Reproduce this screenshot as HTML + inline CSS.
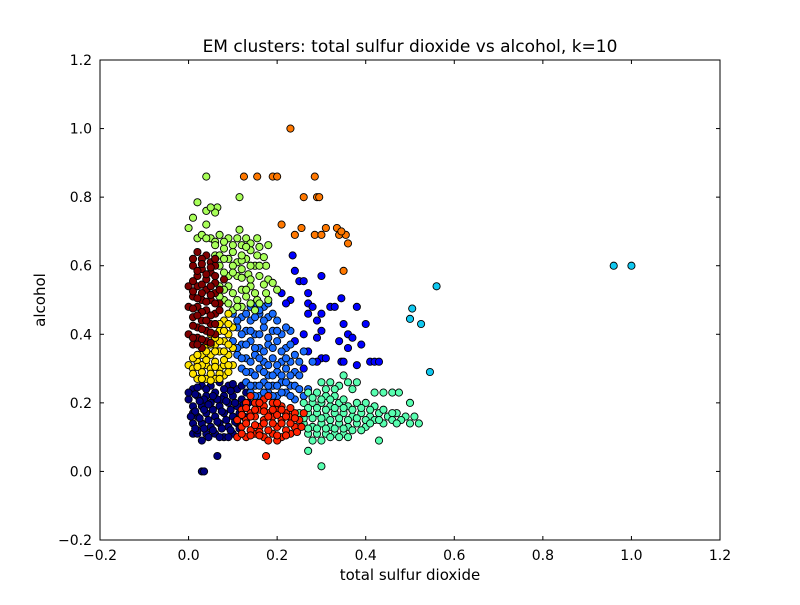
<!DOCTYPE html>
<html><head><meta charset="utf-8"><style>
body{margin:0;background:#fff}
svg text{font-family:"DejaVu Sans","Liberation Sans",sans-serif;fill:#000}
</style></head><body>
<svg id="chart" width="800" height="600" xmlns="http://www.w3.org/2000/svg">
<rect width="800" height="600" fill="#fff"/>
<text x="410" y="52" font-size="17" text-anchor="middle">EM clusters: total sulfur dioxide vs alcohol, k=10</text>
<text x="410" y="580" font-size="15" text-anchor="middle">total sulfur dioxide</text>
<text x="45" y="300" font-size="15" text-anchor="middle" transform="rotate(-90 45 300)">alcohol</text>
<g id="ticks"></g>
<g id="points"></g>
<rect x="100" y="60" width="620" height="480" fill="none" stroke="#000" stroke-width="1"/>
</svg>
<script>
const xTicks=[-0.2,0.0,0.2,0.4,0.6,0.8,1.0,1.2];
const yTicks=[-0.2,0.0,0.2,0.4,0.6,0.8,1.0,1.2];
const clusterColors=["#000080","#0000ff","#1a6cff","#10c8f0","#58ffb0","#a8ff58","#ffe400","#ff7800","#ff2200","#800000"];
const c0=[[0.01,0.11],[0.02,0.11],[0.04,0.11],[0.06,0.11],[0.08,0.10],[0.10,0.11],[0.03,0.09],[0.07,0.10],[0.01,0.14],[0.03,0.14],[0.05,0.13],[0.07,0.14],[0.09,0.13],[0.11,0.14],[0.02,0.16],[0.04,0.17],[0.06,0.16],[0.08,0.17],[0.10,0.16],[0.01,0.19],[0.03,0.19],[0.05,0.20],[0.07,0.19],[0.09,0.20],[0.11,0.19],[0.02,0.22],[0.04,0.22],[0.06,0.23],[0.08,0.22],[0.10,0.22],[0.12,0.21],[0.01,0.24],[0.03,0.25],[0.05,0.25],[0.07,0.26],[0.09,0.25],[0.11,0.24],[0.13,0.23],[0.00,0.21],[0.02,0.12],[0.045,0.15],[0.085,0.15],[0.055,0.18],[0.035,0.21],[0.075,0.21],[0.03,0.00],[0.035,0.00],[0.065,0.045],[0.0,0.23],[0.01,0.17]];
const c0b=[[0.015,0.125],[0.035,0.125],[0.055,0.12],[0.075,0.125],[0.095,0.12],[0.115,0.125],[0.025,0.155],[0.065,0.145],[0.105,0.145],[0.015,0.175],[0.035,0.18],[0.075,0.175],[0.095,0.18],[0.115,0.17],[0.025,0.205],[0.045,0.195],[0.065,0.21],[0.085,0.205],[0.105,0.2],[0.125,0.195],[0.015,0.225],[0.055,0.22],[0.095,0.235],[0.02,0.245],[0.04,0.24],[0.08,0.24],[0.1,0.255],[0.12,0.25],[0.005,0.16],[0.125,0.16],[0.135,0.2],[0.045,0.1],[0.09,0.1],[0.12,0.11]];
const c1=[[0.235,0.63],[0.24,0.585],[0.25,0.555],[0.26,0.555],[0.21,0.52],[0.23,0.5],[0.3,0.57],[0.27,0.52],[0.22,0.49],[0.27,0.49],[0.28,0.48],[0.32,0.48],[0.33,0.48],[0.345,0.505],[0.38,0.48],[0.27,0.46],[0.3,0.46],[0.29,0.44],[0.35,0.43],[0.4,0.43],[0.3,0.41],[0.26,0.4],[0.36,0.4],[0.24,0.38],[0.29,0.39],[0.34,0.38],[0.37,0.39],[0.39,0.37],[0.27,0.35],[0.36,0.36],[0.3,0.33],[0.31,0.33],[0.345,0.32],[0.35,0.32],[0.41,0.32],[0.42,0.32],[0.43,0.32],[0.38,0.31],[0.26,0.3],[0.29,0.32]];
const c2=[[0.1,0.46],[0.12,0.45],[0.14,0.44],[0.16,0.46],[0.18,0.45],[0.2,0.44],[0.11,0.42],[0.13,0.41],[0.15,0.40],[0.17,0.42],[0.19,0.41],[0.21,0.40],[0.23,0.41],[0.1,0.38],[0.12,0.37],[0.14,0.38],[0.16,0.36],[0.18,0.37],[0.2,0.38],[0.22,0.36],[0.11,0.34],[0.13,0.33],[0.15,0.34],[0.17,0.32],[0.19,0.33],[0.21,0.32],[0.23,0.32],[0.25,0.32],[0.12,0.3],[0.14,0.29],[0.16,0.3],[0.18,0.28],[0.2,0.29],[0.22,0.3],[0.24,0.29],[0.13,0.26],[0.15,0.25],[0.17,0.26],[0.19,0.25],[0.21,0.26],[0.23,0.25],[0.14,0.23],[0.16,0.22],[0.18,0.23],[0.2,0.22],[0.22,0.23],[0.24,0.21],[0.26,0.22],[0.15,0.49],[0.17,0.48],[0.26,0.35],[0.28,0.32]];
const c2b=[[0.11,0.44],[0.13,0.46],[0.15,0.45],[0.17,0.44],[0.19,0.46],[0.12,0.4],[0.14,0.41],[0.16,0.4],[0.18,0.39],[0.2,0.41],[0.22,0.42],[0.11,0.36],[0.13,0.37],[0.15,0.36],[0.17,0.35],[0.19,0.36],[0.21,0.35],[0.23,0.37],[0.12,0.33],[0.14,0.32],[0.16,0.33],[0.18,0.31],[0.2,0.31],[0.22,0.33],[0.24,0.34],[0.13,0.29],[0.15,0.28],[0.17,0.29],[0.19,0.28],[0.21,0.28],[0.23,0.28],[0.25,0.28],[0.14,0.25],[0.16,0.25],[0.18,0.25],[0.2,0.25],[0.22,0.26],[0.24,0.25],[0.15,0.22],[0.17,0.23],[0.19,0.22],[0.21,0.23],[0.23,0.22],[0.25,0.24],[0.27,0.24],[0.16,0.47],[0.18,0.49],[0.14,0.48]];
const c3=[[0.96,0.6],[1.0,0.6],[0.56,0.54],[0.505,0.475],[0.5,0.445],[0.525,0.43],[0.545,0.29]];
const c4=[[0.3,0.26],[0.32,0.26],[0.34,0.25],[0.36,0.26],[0.38,0.26],[0.35,0.28],[0.42,0.23],[0.44,0.23],[0.46,0.23],[0.475,0.23],[0.27,0.23],[0.29,0.23],[0.31,0.22],[0.33,0.22],[0.26,0.2],[0.28,0.2],[0.3,0.2],[0.32,0.19],[0.34,0.2],[0.36,0.19],[0.38,0.2],[0.4,0.2],[0.42,0.19],[0.25,0.17],[0.27,0.17],[0.29,0.17],[0.31,0.16],[0.33,0.17],[0.35,0.17],[0.37,0.16],[0.39,0.17],[0.41,0.16],[0.43,0.17],[0.45,0.16],[0.47,0.17],[0.49,0.16],[0.51,0.16],[0.26,0.14],[0.28,0.13],[0.3,0.14],[0.32,0.13],[0.34,0.14],[0.36,0.13],[0.38,0.14],[0.4,0.13],[0.44,0.14],[0.48,0.15],[0.5,0.14],[0.52,0.14],[0.27,0.11],[0.29,0.11],[0.31,0.11],[0.33,0.11],[0.35,0.11],[0.37,0.12],[0.28,0.09],[0.3,0.09],[0.3,0.015],[0.27,0.06],[0.43,0.09],[0.5,0.2],[0.39,0.12],[0.46,0.17]];
const c4b=[[0.31,0.24],[0.33,0.24],[0.37,0.24],[0.28,0.215],[0.3,0.21],[0.32,0.21],[0.35,0.21],[0.27,0.185],[0.29,0.185],[0.31,0.18],[0.33,0.185],[0.35,0.185],[0.37,0.18],[0.39,0.185],[0.41,0.18],[0.44,0.18],[0.26,0.155],[0.28,0.155],[0.3,0.155],[0.32,0.15],[0.34,0.155],[0.36,0.15],[0.38,0.155],[0.4,0.15],[0.42,0.15],[0.46,0.15],[0.27,0.125],[0.29,0.125],[0.31,0.125],[0.33,0.125],[0.35,0.125],[0.41,0.14],[0.43,0.15],[0.47,0.14],[0.32,0.1],[0.34,0.1],[0.36,0.1]];
const c5=[[0.04,0.86],[0.115,0.80],[0.02,0.785],[0.04,0.76],[0.065,0.77],[0.06,0.755],[0.05,0.77],[0.0,0.71],[0.01,0.74],[0.04,0.72],[0.115,0.705],[0.02,0.68],[0.03,0.69],[0.05,0.68],[0.07,0.69],[0.09,0.68],[0.11,0.68],[0.13,0.68],[0.14,0.665],[0.155,0.68],[0.18,0.66],[0.08,0.65],[0.1,0.64],[0.12,0.66],[0.14,0.645],[0.06,0.63],[0.09,0.62],[0.11,0.61],[0.13,0.62],[0.155,0.63],[0.17,0.625],[0.175,0.6],[0.07,0.6],[0.12,0.59],[0.15,0.60],[0.09,0.57],[0.11,0.57],[0.135,0.575],[0.16,0.57],[0.18,0.56],[0.07,0.54],[0.09,0.54],[0.12,0.53],[0.14,0.54],[0.19,0.55],[0.08,0.5],[0.11,0.5],[0.13,0.51],[0.155,0.50],[0.175,0.52],[0.1,0.47],[0.12,0.48],[0.07,0.51],[0.2,0.53],[0.15,0.47]];
const c5b=[[0.04,0.68],[0.06,0.67],[0.08,0.67],[0.1,0.66],[0.13,0.655],[0.16,0.655],[0.07,0.63],[0.08,0.62],[0.1,0.6],[0.12,0.615],[0.14,0.6],[0.16,0.6],[0.08,0.58],[0.1,0.58],[0.12,0.565],[0.14,0.56],[0.17,0.545],[0.08,0.53],[0.1,0.52],[0.13,0.53],[0.15,0.52],[0.09,0.49],[0.11,0.48],[0.14,0.49],[0.16,0.49],[0.18,0.5],[0.12,0.63],[0.06,0.66]];
const c6=[[0.0,0.31],[0.01,0.3],[0.02,0.32],[0.03,0.29],[0.04,0.31],[0.05,0.3],[0.06,0.32],[0.07,0.3],[0.08,0.31],[0.02,0.27],[0.04,0.27],[0.06,0.27],[0.08,0.28],[0.03,0.34],[0.05,0.34],[0.07,0.35],[0.09,0.34],[0.04,0.37],[0.06,0.37],[0.08,0.38],[0.05,0.4],[0.07,0.41],[0.09,0.4],[0.06,0.43],[0.08,0.44],[0.1,0.42],[0.09,0.46],[0.1,0.36],[0.01,0.33],[0.1,0.31]];
const c6b=[[0.01,0.285],[0.03,0.31],[0.05,0.285],[0.07,0.285],[0.09,0.29],[0.02,0.305],[0.04,0.325],[0.06,0.305],[0.08,0.325],[0.09,0.31],[0.02,0.34],[0.04,0.35],[0.06,0.35],[0.08,0.35],[0.05,0.37],[0.07,0.38],[0.09,0.37],[0.06,0.39],[0.08,0.41],[0.07,0.43],[0.09,0.43],[0.03,0.27],[0.05,0.265],[0.07,0.27]];
const c7=[[0.23,1.0],[0.125,0.86],[0.155,0.86],[0.19,0.86],[0.2,0.86],[0.285,0.86],[0.29,0.80],[0.295,0.80],[0.26,0.80],[0.21,0.72],[0.24,0.69],[0.255,0.71],[0.285,0.69],[0.3,0.69],[0.31,0.71],[0.335,0.71],[0.34,0.69],[0.355,0.69],[0.36,0.665],[0.35,0.585],[0.345,0.7]];
const c8=[[0.11,0.10],[0.13,0.10],[0.15,0.11],[0.17,0.10],[0.19,0.11],[0.21,0.10],[0.23,0.11],[0.12,0.13],[0.14,0.12],[0.16,0.13],[0.18,0.12],[0.20,0.13],[0.22,0.12],[0.24,0.13],[0.11,0.15],[0.13,0.15],[0.15,0.16],[0.17,0.15],[0.19,0.16],[0.21,0.15],[0.23,0.16],[0.25,0.15],[0.12,0.18],[0.14,0.17],[0.16,0.18],[0.18,0.17],[0.20,0.18],[0.22,0.17],[0.24,0.17],[0.13,0.20],[0.15,0.20],[0.17,0.19],[0.19,0.20],[0.21,0.19],[0.14,0.22],[0.17,0.21],[0.175,0.045],[0.18,0.09],[0.26,0.17],[0.20,0.09]];
const c8b=[[0.12,0.11],[0.14,0.105],[0.16,0.115],[0.2,0.105],[0.22,0.105],[0.245,0.115],[0.13,0.14],[0.15,0.135],[0.17,0.14],[0.19,0.14],[0.21,0.14],[0.23,0.14],[0.12,0.165],[0.14,0.16],[0.18,0.16],[0.2,0.165],[0.22,0.16],[0.24,0.155],[0.13,0.185],[0.15,0.18],[0.17,0.175],[0.19,0.18],[0.21,0.18],[0.23,0.185],[0.16,0.2],[0.2,0.2],[0.18,0.22],[0.16,0.105],[0.255,0.13]];
const c9=[[0.02,0.64],[0.04,0.63],[0.03,0.62],[0.05,0.61],[0.01,0.6],[0.03,0.59],[0.05,0.58],[0.02,0.57],[0.04,0.56],[0.06,0.55],[0.0,0.54],[0.02,0.54],[0.04,0.53],[0.06,0.52],[0.01,0.51],[0.03,0.5],[0.05,0.5],[0.07,0.49],[0.02,0.48],[0.04,0.47],[0.06,0.46],[0.01,0.45],[0.03,0.44],[0.05,0.43],[0.02,0.42],[0.04,0.41],[0.0,0.4],[0.02,0.39],[0.04,0.38],[0.06,0.4],[0.01,0.37],[0.03,0.36],[0.07,0.53],[0.08,0.56],[0.0,0.48],[0.06,0.6]];
const c9b=[[0.01,0.62],[0.03,0.605],[0.05,0.595],[0.02,0.585],[0.04,0.575],[0.06,0.57],[0.01,0.555],[0.03,0.545],[0.05,0.54],[0.01,0.525],[0.03,0.52],[0.05,0.515],[0.02,0.505],[0.04,0.495],[0.06,0.49],[0.01,0.475],[0.03,0.465],[0.05,0.455],[0.02,0.455],[0.04,0.44],[0.06,0.43],[0.01,0.425],[0.03,0.415],[0.05,0.405],[0.01,0.39],[0.03,0.385],[0.05,0.375],[0.02,0.37],[0.07,0.47],[0.06,0.62]];
const clusters=[c0.concat(c0b),c1,c2.concat(c2b),c3,c4.concat(c4b),c5.concat(c5b),c6.concat(c6b),c7,c8.concat(c8b),c9.concat(c9b)];

const X0=100,X1=720,Y0=540,Y1=60,XMIN=-0.2,XMAX=1.2,YMIN=-0.2,YMAX=1.2;
function sx(v){return X0+(v-XMIN)/(XMAX-XMIN)*(X1-X0);}
function sy(v){return Y0-(v-YMIN)/(YMAX-YMIN)*(Y0-Y1);}
const NS="http://www.w3.org/2000/svg";
const tg=document.getElementById('ticks');
function line(x1,y1,x2,y2){const l=document.createElementNS(NS,'line');l.setAttribute('x1',x1);l.setAttribute('y1',y1);l.setAttribute('x2',x2);l.setAttribute('y2',y2);l.setAttribute('stroke','#000');tg.appendChild(l);return l;}
xTicks.forEach(t=>{
  const x=sx(t);
  const a=line(x,Y0,x,Y0-4);
  
  
  const b=line(x,Y1,x,Y1+4);
  
  
  const tx=document.createElementNS(NS,'text');
  tx.setAttribute('x',x);tx.setAttribute('y',Y0+20);tx.setAttribute('font-size','14');tx.setAttribute('text-anchor','middle');
  tx.textContent=(t<0?'\u2212':'')+Math.abs(t).toFixed(1);
  
  
  tg.appendChild(tx);
});
yTicks.forEach(t=>{
  const y=sy(t);
  const a=line(X0,y,X0+4,y);
  
  
  const b=line(X1,y,X1-4,y);
  
  
  const tx=document.createElementNS(NS,'text');
  tx.setAttribute('x',X0-8);tx.setAttribute('y',y+5);tx.setAttribute('font-size','14');tx.setAttribute('text-anchor','end');
  tx.textContent=(t<0?'\u2212':'')+Math.abs(t).toFixed(1);
  
  
  tg.appendChild(tx);
});
const pg=document.getElementById('points');
clusters.forEach((pts,ci)=>{
  pts.forEach(p=>{
    const c=document.createElementNS(NS,'circle');
    c.setAttribute('cx',sx(p[0]));c.setAttribute('cy',sy(p[1]));c.setAttribute('r','3.6');
    c.setAttribute('fill',clusterColors[ci]);c.setAttribute('stroke','#000');c.setAttribute('stroke-width','0.9');
    
    
    pg.appendChild(c);
  });
});
</script>
</body></html>
